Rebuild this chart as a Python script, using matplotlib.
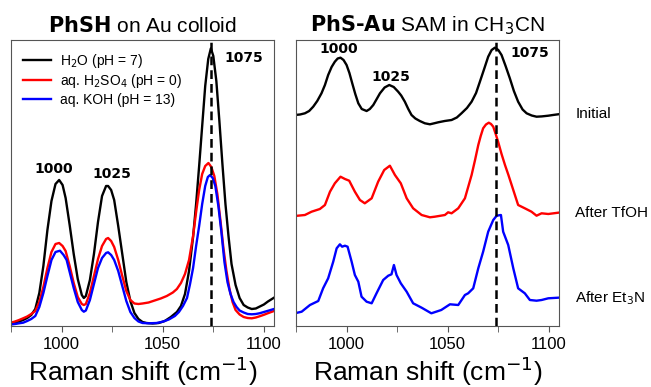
import numpy as np
import matplotlib
matplotlib.use("Agg")
import matplotlib.pyplot as plt
from matplotlib.ticker import MultipleLocator

plt.rcParams["font.family"] = ["Liberation Sans", "DejaVu Sans"]
plt.rcParams["mathtext.fontset"] = "dejavusans"

# ---- left panel: PhSH on Au colloid (intensity, a.u.) ----
h2o_x = [975, 977, 979, 981, 983, 985, 987, 989, 991, 993, 995, 997, 998.8, 1000.5,
         1002, 1004, 1006, 1008, 1010, 1011, 1012, 1014, 1016, 1018, 1020, 1022, 1023,
         1024.5, 1026, 1028, 1030, 1032, 1034, 1036, 1038, 1040, 1042, 1045, 1048, 1051,
         1054, 1057, 1059, 1061, 1063, 1065, 1066.5, 1068, 1069.5, 1071, 1072.5, 1073.8,
         1075, 1076.5, 1078, 1079.5, 1081, 1082.5, 1084, 1086, 1088, 1090, 1092, 1094,
         1096, 1098, 1100, 1102, 1105]
h2o_y = [2.7, 3.5, 4.5, 6, 8, 11, 17, 33, 60, 96, 125, 142, 146, 141,
         128, 101, 72, 47, 31, 28, 30, 46, 72, 104, 130, 140, 140,
         136, 126, 100, 72, 44, 25, 13, 7, 4, 3, 2.5, 3, 5,
         9, 14, 20, 32, 55, 89, 122, 160, 200, 240, 267, 277.7,
         270, 245, 205, 162, 122, 90, 62, 41, 28, 21, 18.5, 17,
         17.5, 19.5, 21.5, 24.5, 28.3]

h2so4_x = [975, 977, 979, 981, 983, 985, 987, 989, 991, 993, 995, 997, 998.8, 1000.5,
           1002, 1004, 1006, 1008, 1010, 1011, 1012, 1014, 1016, 1018, 1020, 1022, 1023,
           1024.5, 1026, 1028, 1030, 1032, 1034, 1036, 1038, 1040, 1043, 1046, 1049, 1052,
           1055, 1057, 1059, 1061, 1063, 1065, 1066.5, 1068, 1069.5, 1071, 1072.6, 1074,
           1075.5, 1077, 1078.5, 1080, 1081.5, 1083, 1084.5, 1086, 1088, 1090, 1092, 1094,
           1096, 1098, 1100, 1102, 1105]
h2so4_y = [3.3, 4.5, 6, 7.7, 9.5, 12, 15, 24, 39, 58, 74, 82, 83, 80,
           75, 60, 43, 29, 22, 21, 22, 33, 50, 67, 80, 87, 88,
           85, 79, 66, 50, 35, 26, 22.5, 22, 22.5, 23.5, 25.5, 27.5, 30,
           33.5, 37, 43, 52, 66, 90, 114, 136, 152, 160, 163, 159,
           150, 132, 106, 78, 55, 37, 24, 16, 11.5, 9, 8, 7.7,
           8.5, 9.8, 11.2, 12.8, 15]

koh_x = [975, 977, 979, 981, 983, 985, 987, 989, 991, 993, 995, 997, 999.2, 1001,
         1002.5, 1004, 1006, 1008, 1010, 1011, 1012, 1014, 1016, 1018, 1020, 1022, 1023,
         1024.5, 1026, 1028, 1030, 1032, 1034, 1036, 1038, 1040, 1043, 1047, 1050, 1053,
         1056, 1058, 1060, 1062, 1063.5, 1065, 1066.5, 1068, 1069.5, 1071, 1072.3, 1073.4,
         1074.7, 1076, 1077.5, 1079, 1080.5, 1082, 1083.5, 1085, 1086.5, 1088, 1090, 1092,
         1094, 1096, 1098, 1100, 1102, 1105]
koh_y = [1.5, 2, 2.7, 3.3, 5, 7, 10, 19, 33, 50, 66, 74, 75.3, 71,
         66, 54, 38, 24, 16, 14.3, 15.5, 26, 42, 58, 68, 73, 73.7,
         71, 66, 55, 40, 25, 14, 8, 4.5, 3, 2.7, 3, 4.3, 6.5,
         10, 14, 20, 28, 42, 58, 80, 100, 122, 140, 149, 151,
         148, 140, 120, 94, 64, 44, 32, 24, 19, 15.5, 13.5, 12,
         11.7, 12, 12.8, 14, 15.2, 17]

left_labels = ["H$_2$O (pH = 7)", "aq. H$_2$SO$_4$ (pH = 0)", "aq. KOH (pH = 13)"]

# ---- right panel: PhS-Au SAM in CH3CN (intensity above each baseline) ----
init_x = [974.4, 977, 979.4, 981.5, 983.5, 985.5, 987.6, 989.3, 990.9, 992.6, 994.2,
          995.6, 997, 998.5, 1000, 1001.4, 1002.8, 1004.3, 1005.8, 1007.5, 1009.9, 1011.5,
          1013.2, 1014.9, 1016.5, 1018.8, 1021.1, 1023.3, 1025.5, 1027, 1028.8, 1030.5,
          1032.1, 1034, 1036.2, 1038.7, 1041.2, 1043.5, 1045.3, 1048.5, 1051.9, 1054.5,
          1056.8, 1059.5, 1061.8, 1064, 1065.9, 1068, 1070, 1071.7, 1073.3, 1075, 1076.6,
          1078.6, 1080.7, 1082.7, 1084.8, 1087, 1089, 1091.5, 1093.9, 1096.5, 1099.7,
          1102, 1104.6]
init_y = [11, 11.5, 12.7, 15, 19.3, 25, 32.7, 41, 51, 59, 64.3,
          67.5, 68.3, 66, 61, 53, 42.7, 32, 22.7, 17, 15, 17,
          21, 27, 32.7, 38.5, 41, 39, 34.3, 30.5, 24.3, 17,
          11, 7.5, 5, 2.7, 1.7, 2.8, 3.7, 5, 6, 8.5,
          12.7, 18, 24.3, 33, 44.3, 57, 69.3, 76, 78.3, 76, 71,
          60, 47.7, 35, 24.3, 16.5, 12.7, 10.5, 9.3, 9.6, 10.3,
          11, 11.7]

tfoh_x = [974.4, 979.4, 982.7, 986.8, 989.3, 991.8, 994.2, 997, 999.2, 1001.3, 1004.1,
          1006.6, 1009, 1012.4, 1015.6, 1018.6, 1021.4, 1023.9, 1026.8, 1029.7, 1032.9,
          1037.1, 1041.2, 1043.6, 1048.6, 1050.2, 1051.9, 1055.2, 1058.5, 1061.8, 1063.5,
          1065.1, 1066.3, 1067.5, 1068.9, 1070.3, 1071.4, 1072.5, 1073.7, 1074.9, 1076.6,
          1078.3, 1080, 1081.6, 1084.8, 1088.1, 1091.4, 1093.9, 1096.4, 1099.7, 1104.6]
tfoh_y = [10, 11, 14.3, 17, 21, 34.3, 42.7, 49.3, 47, 45.3, 34.3,
          26, 22.7, 27.7, 44.3, 56, 60.3, 51, 42.7, 27.7, 17.7,
          11, 8.7, 9.3, 11, 13.7, 12.7, 17.7, 27.7, 51, 66,
          81, 90, 97.7, 101.5, 103.3, 102, 99.3, 92, 84.3, 72,
          61, 51, 41, 21, 17.7, 14.3, 10.3, 12.7, 12, 13.3]

et3n_x = [974.4, 977.8, 981.9, 986, 988.4, 990.9, 993.4, 995.1, 996.7, 997.8, 999.2,
          1000.5, 1002.5, 1004.1, 1005.8, 1007.4, 1009.9, 1012.4, 1014.8, 1018.1, 1020.6,
          1022.2, 1023.4, 1024.7, 1026.8, 1029.7, 1032.9, 1037.1, 1041.9, 1046.8, 1051.1,
          1055.2, 1058.5, 1060.1, 1062.6, 1065.1, 1067.5, 1070, 1072.5, 1074.2, 1076.3,
          1077.4, 1079.9, 1082.4, 1084.8, 1088.1, 1090.6, 1093.9, 1096.4, 1099.7, 1104.6]
et3n_y = [12.7, 14.3, 21, 25, 37.7, 47.7, 64.3, 77.7, 81.7, 79.3, 80.3,
          79.3, 64.3, 51, 44.3, 29.3, 24.3, 22.7, 32.7, 46, 50.3,
          51.7, 61, 51, 42.7, 34.3, 22.7, 18.3, 12.7, 16, 21.7,
          21, 31, 32.7, 37.7, 57.7, 74.3, 94.3, 106, 110.3, 111,
          94.3, 81, 57.7, 37.7, 32.7, 26, 25.3, 26, 27.7, 28.3]

right_labels = ["Initial", "After TfOH", "After Et$_3$N"]
right_offsets = [200, 100, 0]

colors = ["black", "red", "blue"]
PEAK_LINE = 1074
spine_color = "#555555"

fig = plt.figure(figsize=(6.51, 3.87), dpi=100)
ax1 = fig.add_axes([11 / 651, 61 / 387, 263 / 651, 286 / 387])
ax2 = fig.add_axes([296 / 651, 61 / 387, 263 / 651, 286 / 387])

for xs, ys, c, lab in zip([h2o_x, h2so4_x, koh_x], [h2o_y, h2so4_y, koh_y], colors, left_labels):
    ax1.plot(xs, ys, color=c, lw=1.7, label=lab)

for xs, ys, c, off, lab in zip([init_x, tfoh_x, et3n_x], [init_y, tfoh_y, et3n_y],
                               colors, right_offsets, right_labels):
    yy = np.array(ys) + off
    ax2.plot(xs, yy, color=c, lw=1.7)
    ax2.text(1113, yy[-1], lab, fontsize=11, va="center", ha="left", clip_on=False)

for ax in (ax1, ax2):
    ax.axvline(PEAK_LINE, color="black", ls=(0, (3.5, 2)), lw=1.8, zorder=5)
    ax.set_xlim(975, 1105)
    ax.set_ylim(0, 286)
    ax.set_yticks([])
    ax.xaxis.set_major_locator(MultipleLocator(50))
    ax.xaxis.set_minor_locator(MultipleLocator(25))
    ax.tick_params(axis="x", which="both", length=4, color=spine_color, labelsize=12, pad=4)
    for sp in ax.spines.values():
        sp.set_color(spine_color)
    ax.set_xlabel("Raman shift (cm$^{-1}$)", fontsize=19, labelpad=2)

ax1.legend(loc="upper left", frameon=False, fontsize=10, handlelength=2.0,
           handletextpad=0.7, labelspacing=0.18, borderaxespad=0.45)

peak_kw = dict(fontsize=10, fontweight="bold", family="DejaVu Sans")
ax1.text(996.2, 157, "1000", ha="center", va="center", **peak_kw)
ax1.text(1024.8, 152, "1025", ha="center", va="center", **peak_kw)
ax1.text(1080.3, 268, "1075", ha="left", va="center", **peak_kw)
ax2.text(996.2, 276.7, "1000", ha="center", va="center", **peak_kw)
ax2.text(1021.9, 248.7, "1025", ha="center", va="center", **peak_kw)
ax2.text(1081.2, 272.7, "1075", ha="left", va="center", **peak_kw)

ax1.set_title(r"$\bf{PhSH}$ on Au colloid", fontsize=15, pad=6)
ax2.set_title("$\\bf{PhS\u2010Au}$ SAM in CH$_3$CN", fontsize=15, pad=6)

fig.savefig("out.png", dpi=100)
